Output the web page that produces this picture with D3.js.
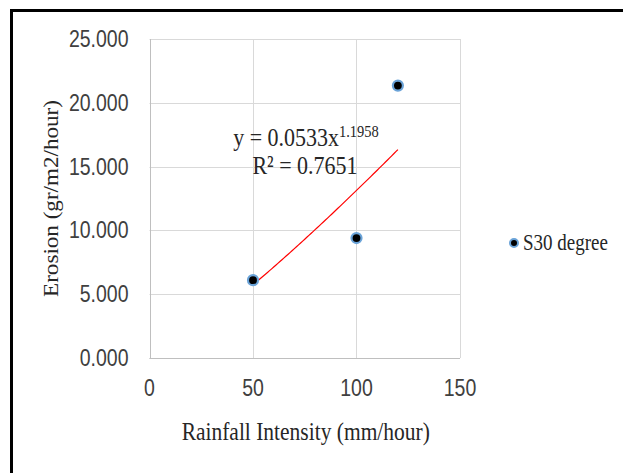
<!DOCTYPE html>
<html>
<head>
<meta charset="utf-8">
<script src="https://cdn.jsdelivr.net/npm/d3@7"></script>
<style>
  body { margin: 0; background: #fff; }
  .tick-label { font-family: "Liberation Sans", Arial, sans-serif; font-size: 19.5px; fill: #404040; }
  .serif { font-family: "Liberation Serif", "Times New Roman", serif; fill: #262626; }
</style>
</head>
<body>
<div id="chart"></div>
<script>
// data
const rainfall = [50, 100, 120];
const erosion = [6.1, 9.4, 21.35];
const xTicks = [0, 50, 100, 150];
const yTicks = [0, 5, 10, 15, 20, 25];
const seriesName = "S30 degree";
// power trendline reported by the chart: y = a * x^b
const trendA = 0.0533;
const trendB = 1.1958;
const trendLabel = "R² = 0.7651";

const W = 623, H = 473;
const margin = {top: 39, left: 149.5, right: 163, bottom: 115};
const stretch = 1.18; // text in the original looks taller than wide

const svg = d3.select("#chart").append("svg")
    .attr("width", W)
    .attr("height", H);

// outer frame (top + left edges visible)
svg.append("path")
    .attr("d", `M11.5,${H} L11.5,10.5 L${W},10.5`)
    .attr("fill", "none")
    .attr("stroke", "#000")
    .attr("stroke-width", 3);

const x = d3.scaleLinear().domain([0, 150]).range([margin.left, W - margin.right]);
const y = d3.scaleLinear().domain([0, 25]).range([H - margin.bottom, margin.top]);

// gridlines
svg.append("g").selectAll("line").data(yTicks).join("line")
    .attr("x1", x(0)).attr("x2", x(150))
    .attr("y1", d => Math.round(y(d)) + 0.5).attr("y2", d => Math.round(y(d)) + 0.5)
    .attr("stroke", "#d9d9d9").attr("stroke-width", 1);

svg.append("g").selectAll("line").data(xTicks).join("line")
    .attr("y1", y(0)).attr("y2", y(25))
    .attr("x1", d => Math.round(x(d)) + 0.5).attr("x2", d => Math.round(x(d)) + 0.5)
    .attr("stroke", "#d9d9d9").attr("stroke-width", 1);

// axes lines
svg.append("line")
    .attr("x1", x(0)).attr("x2", x(150))
    .attr("y1", Math.round(y(0)) + 0.5).attr("y2", Math.round(y(0)) + 0.5)
    .attr("stroke", "#bfbfbf");
svg.append("line")
    .attr("x1", Math.round(x(0)) + 0.5).attr("x2", Math.round(x(0)) + 0.5)
    .attr("y1", y(0)).attr("y2", y(25))
    .attr("stroke", "#bfbfbf");

// tick labels
svg.append("g").selectAll("text").data(yTicks).join("text")
    .attr("class", "tick-label")
    .attr("transform", d => `translate(${x(0) - 21}, ${y(d) + 8}) scale(1, ${stretch})`)
    .attr("text-anchor", "end")
    .text(d => d3.format(".3f")(d));

svg.append("g").selectAll("text").data(xTicks).join("text")
    .attr("class", "tick-label")
    .attr("transform", d => `translate(${x(d)}, ${y(0) + 38}) scale(1, ${stretch})`)
    .attr("text-anchor", "middle")
    .text(d => d);

// axis titles
svg.append("text")
    .attr("class", "serif")
    .attr("transform", `translate(${(x(0) + x(150)) / 2 + 1}, ${y(0) + 82}) scale(1, ${stretch})`)
    .attr("text-anchor", "middle")
    .style("font-size", "21.5px")
    .text("Rainfall Intensity (mm/hour)");

svg.append("text")
    .attr("class", "serif")
    .attr("transform", `translate(58, ${(y(0) + y(25)) / 2}) rotate(-90) scale(1.1, 1)`)
    .attr("text-anchor", "middle")
    .style("font-size", "21px")
    .text("Erosion (gr/m2/hour)");

// trendline
const xs = d3.range(d3.min(rainfall), d3.max(rainfall) + 0.5, 1);
const line = d3.line()
    .x(d => x(d))
    .y(d => y(trendA * Math.pow(d, trendB)));
svg.append("path")
    .datum(xs)
    .attr("d", line)
    .attr("fill", "none")
    .attr("stroke", "#ff0000")
    .attr("stroke-width", 1.2);

// points
svg.append("g").selectAll("circle").data(rainfall).join("circle")
    .attr("cx", d => x(d))
    .attr("cy", (d, i) => y(erosion[i]))
    .attr("r", 5)
    .attr("fill", "#000")
    .attr("stroke", "#6aa3d8")
    .attr("stroke-width", 2.2);

// equation
const eq = svg.append("text")
    .attr("class", "serif")
    .attr("transform", `translate(306, 146) scale(1, ${stretch})`)
    .attr("text-anchor", "middle")
    .style("font-size", "22px");
eq.append("tspan").text(`y = ${trendA}x`);
eq.append("tspan").attr("dy", -8).style("font-size", "14.5px").text(trendB);

svg.append("text")
    .attr("class", "serif")
    .attr("transform", `translate(305, 174) scale(1, ${stretch})`)
    .attr("text-anchor", "middle")
    .style("font-size", "22px")
    .text(trendLabel);

// legend
svg.append("circle")
    .attr("cx", 514).attr("cy", 243).attr("r", 4)
    .attr("fill", "#000").attr("stroke", "#6aa3d8").attr("stroke-width", 2);
svg.append("text")
    .attr("class", "serif")
    .attr("transform", `translate(523, 250) scale(1, ${stretch})`)
    .style("font-size", "19px")
    .text(seriesName);
</script>
</body>
</html>
